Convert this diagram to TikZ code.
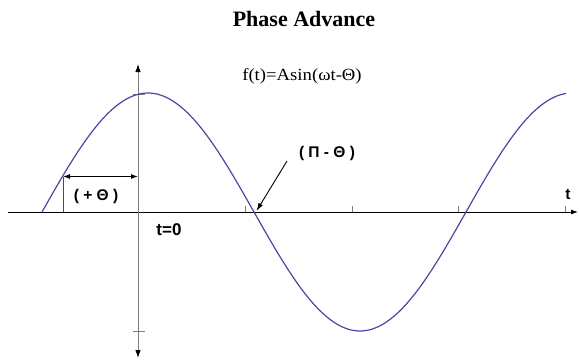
\documentclass[tikz,border=0pt]{standalone}
\usepackage{fontspec}
\setmainfont{Liberation Serif}
\newfontfamily\lsans{Liberation Sans}
\usetikzlibrary{arrows.meta}
\definecolor{wave}{RGB}{72,72,165}
\definecolor{axisgray}{RGB}{125,125,125}
\tikzset{
  wavecurve/.style={draw=wave, line width=1.2pt},
  haxis/.style={draw=black, line width=0.9pt, -{Latex[length=7pt,width=5pt]}},
  vaxis/.style={draw=axisgray, line width=0.9pt, {Latex[length=8pt,width=5.5pt,fill=black,color=black]}-{Latex[length=8pt,width=5.5pt,fill=black,color=black]}},
  tickmark/.style={draw=axisgray, line width=0.7pt},
  dimline/.style={draw=black!70, line width=0.8pt},
  dimarrow/.style={draw=black, line width=1pt, {Latex[length=7pt,width=5pt]}-{Latex[length=7pt,width=5pt]}},
  pointer/.style={draw=black, line width=0.9pt, -{Latex[length=8pt,width=5pt]}},
  lbl/.style={font=\lsans\bfseries\fontsize{15.5}{18}\selectfont, inner sep=0pt},
}
\begin{document}
\begin{tikzpicture}[x=1pt,y=-1pt]
\useasboundingbox[fill=white] (0,0) rectangle (579,360);
% title and formula
\node[inner sep=0pt, font=\bfseries\fontsize{22}{24}\selectfont] (title) at (304,19) {Phase Advance};
\node[inner sep=0pt, font=\fontsize{17}{19}\selectfont] (formula) at (302,76) {\scalebox{1.1}[1]{f(t)=Asin(ωt-Θ)}};
% axes
\coordinate (hL) at (8,212);
\coordinate (hR) at (578,212);
\coordinate (vB) at (138,358);
\coordinate (vT) at (138,64);
\draw[haxis] (hL) -- (hR);
\draw[vaxis] (vB) -- (vT);
% ticks
\foreach \tx/\nm in {245/a,352/b,458/c,565/d}{
  \coordinate (tb\nm) at (\tx,212);
  \coordinate (tt\nm) at (\tx,206);
  \draw[tickmark] (tb\nm) -- (tt\nm);
}
\coordinate (ytl) at (133,94);
\coordinate (ytr) at (145,94);
\coordinate (ybl) at (133,331);
\coordinate (ybr) at (145,331);
\draw[tickmark] (ytl) -- (ytr);
\draw[tickmark] (ybl) -- (ybr);
% sine wave
\draw[wavecurve] plot[domain=42:566, samples=240, smooth] (\x, {212-119*sin((\x-42)/424*360)});
% phase dimension
\coordinate (dB) at (63,212);
\coordinate (dT) at (63,176.5);
\coordinate (dR) at (138,176.5);
\draw[dimline] (dB) -- (dT);
\draw[dimarrow] (dT) -- (dR);
\node[lbl] (plus) at (96,196) {( + Θ )};
% pi - theta pointer
\coordinate (pS) at (287,161);
\coordinate (pE) at (256.5,211);
\draw[pointer] (pS) -- (pE);
\node[lbl] (pimt) at (327,153) {( Π - Θ )};
% axis labels
\node[lbl] (tlab) at (568,195) {t};
\node[lbl, font=\lsans\bfseries\fontsize{17}{19}\selectfont] (t0) at (169,230) {t=0};
\end{tikzpicture}
\end{document}
